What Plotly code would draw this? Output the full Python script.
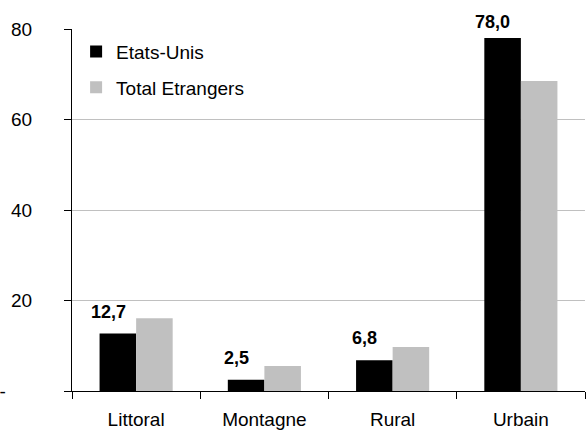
import plotly.graph_objects as go

categories = ["Littoral", "Montagne", "Rural", "Urbain"]
etats_unis = [12.7, 2.5, 6.8, 78.0]
total_etrangers = [16.1, 5.5, 9.7, 68.5]
label_texts = ["12,7", "2,5", "6,8", "78,0"]
y_tickvals = [0, 20, 40, 60, 80]
y_ticktext = ["-" + "\u00a0" * 5, "20", "40", "60", "80"]

FONT = "Liberation Sans, Arial, sans-serif"

fig = go.Figure()
fig.add_trace(go.Bar(x=categories, y=etats_unis, name="Etats-Unis",
                     marker=dict(color="#000000", line=dict(width=0)),
                     legendgroup="a"))
fig.add_trace(go.Bar(x=categories, y=total_etrangers, name="Total Etrangers",
                     marker=dict(color="#C0C0C0", line=dict(width=0)),
                     legendgroup="b"))

for cat, val, txt in zip(categories, etats_unis, label_texts):
    fig.add_annotation(x=cat, y=val, text="<b>" + txt + "</b>", showarrow=False,
                       xanchor="center", yanchor="bottom",
                       xshift=-28, yshift=4 if val > 70 else 10,
                       font=dict(family=FONT, size=18, color="#000000"))

fig.update_layout(
    width=587, height=430,
    margin=dict(l=72, r=2, t=29, b=39),
    paper_bgcolor="white", plot_bgcolor="white",
    barmode="group", bargap=0.43, bargroupgap=0,
    font=dict(family=FONT, size=19, color="#000000"),
    showlegend=True,
    legend=dict(x=0.008, y=0.99, xanchor="left", yanchor="top",
                bgcolor="rgba(0,0,0,0)", font=dict(size=19),
                tracegroupgap=8, itemwidth=30),
)
fig.update_xaxes(
    type="category", showgrid=False, showline=True, linecolor="#000000",
    linewidth=1, ticks="outside", tickson="boundaries", ticklen=7,
    tickcolor="#000000", ticklabelstandoff=11, zeroline=False,
    automargin=False,
)
fig.update_yaxes(
    range=[0, 80], tickvals=y_tickvals, ticktext=y_ticktext,
    showgrid=True, gridcolor="#C0C0C0", gridwidth=1,
    showline=True, linecolor="#000000", linewidth=1,
    ticks="outside", ticklen=7, tickcolor="#000000",
    ticklabelstandoff=28, zeroline=False, automargin=False,
)

fig.write_html("out.html", config={"displayModeBar": False},
               post_script="document.body.style.margin='0';document.body.style.padding='0';")
